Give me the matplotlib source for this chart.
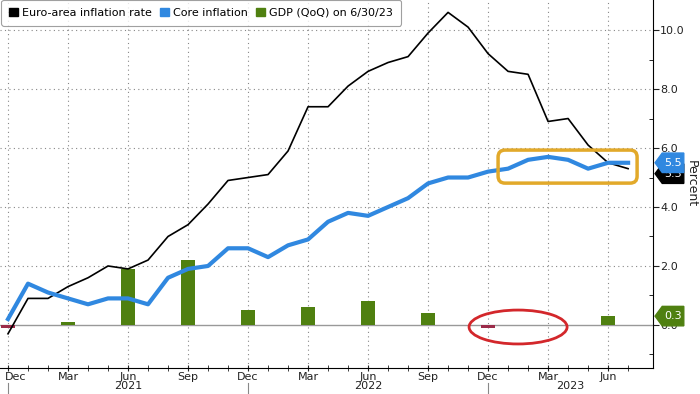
import matplotlib
matplotlib.use("Agg")
import matplotlib.pyplot as plt
import matplotlib.transforms as mtransforms
from matplotlib.patches import Patch, Polygon, Ellipse, FancyBboxPatch
import numpy as np
import pandas as pd

# monthly data, Dec 2020 .. Jul 2023
months = pd.period_range("2020-12", "2023-07", freq="M")
headline = [-0.3, 0.9, 0.9, 1.3, 1.6, 2.0, 1.9, 2.2, 3.0, 3.4, 4.1, 4.9,
            5.0, 5.1, 5.9, 7.4, 7.4, 8.1, 8.6, 8.9, 9.1, 9.9, 10.6, 10.1,
            9.2, 8.6, 8.5, 6.9, 7.0, 6.1, 5.5, 5.3]
core = [0.2, 1.4, 1.1, 0.9, 0.7, 0.9, 0.9, 0.7, 1.6, 1.9, 2.0, 2.6,
        2.6, 2.3, 2.7, 2.9, 3.5, 3.8, 3.7, 4.0, 4.3, 4.8, 5.0, 5.0,
        5.2, 5.3, 5.6, 5.7, 5.6, 5.3, 5.5, 5.5]

# quarterly GDP (QoQ)
gdp_months = ["2020-12", "2021-03", "2021-06", "2021-09", "2021-12", "2022-03",
              "2022-06", "2022-09", "2022-12", "2023-03", "2023-06"]
gdp = [-0.1, 0.1, 1.9, 2.2, 0.5, 0.6, 0.8, 0.4, -0.1, 0.0, 0.3]

labels = ["Euro-area inflation rate", "Core inflation", "GDP (QoQ) on 6/30/23"]
years = ["2021", "2022", "2023"]

BLACK = "#000000"
BLUE = "#3088e0"
GREEN = "#4f8010"
MAROON = "#9b2c4a"

x = np.arange(len(months))
gx = [months.get_loc(pd.Period(m, freq="M")) for m in gdp_months]

fig = plt.figure(figsize=(7, 3.94), dpi=100)
ax = fig.add_axes([0.0, 0.066, 0.933, 0.934])

# grid + zero line
for v in [2, 4, 6, 8, 10]:
    ax.axhline(v, color="#888888", lw=0.8, ls=(0, (1, 3)), zorder=0)
for i in range(0, len(months), 3):
    ax.axvline(i, color="#888888", lw=0.8, ls=(0, (1, 3)), zorder=0)
ax.axhline(0, color="#999999", lw=1.0, zorder=1)

bar_colors = [GREEN if g >= 0 else MAROON for g in gdp]
ax.bar(gx, gdp, width=0.7, color=bar_colors, zorder=2)
ax.plot(x, headline, color=BLACK, lw=1.2, zorder=3)
ax.plot(x, core, color=BLUE, lw=3, zorder=4)

ax.set_xlim(-0.4, 32.25)
ax.set_ylim(-1.46, 11.02)

# annotations
box = FancyBboxPatch((24.5, 4.81), 6.95, 1.12,
                     boxstyle="round,pad=0,rounding_size=0.35",
                     mutation_aspect=0.68, fill=False,
                     edgecolor="#e2a92a", lw=2.5, zorder=5)
ax.add_patch(box)
ax.add_patch(Ellipse((25.5, -0.07), 4.9, 1.15, fill=False,
                     edgecolor="#d3272b", lw=2, zorder=5))

# spines / ticks
for s in ["top", "left"]:
    ax.spines[s].set_visible(False)
ax.yaxis.tick_right()
ax.set_yticks(np.arange(0, 11, 2))
ax.set_yticks(np.arange(-1, 11, 2), minor=True)
ax.yaxis.set_major_formatter(matplotlib.ticker.FormatStrFormatter("%.1f"))
ax.tick_params(axis="y", which="major", labelsize=8, length=4, pad=1, colors="#222222")
ax.tick_params(axis="y", which="minor", length=3, direction="in")
ax.text(1.058, 0.5, "Percent", transform=ax.transAxes, rotation=270,
        ha="center", va="center", fontsize=9, color="#222222")

ax.set_xticks(x[::3])
ax.set_xticklabels([m.strftime("%b") for m in months[::3]])
ax.set_xticks(x, minor=True)
ax.tick_params(axis="x", which="both", direction="inout", length=4, labelsize=8,
               pad=1, colors="#222222")
first = ax.get_xticklabels()[0]
first.set_horizontalalignment("left")
first.set_transform(first.get_transform() +
                    mtransforms.ScaledTranslation(-3 / 100, 0, fig.dpi_scale_trans))

# year labels and separators
trans = mtransforms.blended_transform_factory(ax.transData, ax.transAxes)
dec_idx = [i for i, m in enumerate(months) if m.month == 12]
edges = dec_idx + [32.25]
for k, yr in enumerate(years):
    ax.plot([dec_idx[k], dec_idx[k]], [-0.04, -0.08], color="#888888", lw=0.8,
            transform=trans, clip_on=False)
    ax.text((edges[k] + edges[k + 1]) / 2, -0.036, yr, transform=trans,
            ha="center", va="top", fontsize=8, color="#222222")

# value tags on right axis
ytrans = mtransforms.blended_transform_factory(ax.transAxes, ax.transData)
def tag(v, txt, color, z):
    h = 0.33
    pts = [(1.003, v), (1.014, v + h), (1.047, v + h), (1.047, v - h), (1.014, v - h)]
    ax.add_patch(Polygon(pts, closed=True, color=color, transform=ytrans,
                         clip_on=False, zorder=z))
    ax.text(1.031, v, txt, transform=ytrans, ha="center", va="center",
            fontsize=8, color="white", zorder=z + 0.5, clip_on=False)

tag(headline[-1] - 0.17, f"{headline[-1]:.1f}", BLACK, 6)
tag(core[-1], f"{core[-1]:.1f}", BLUE, 7)
tag(gdp[-1], f"{gdp[-1]:.1f}", GREEN, 6)

handles = [Patch(color=BLACK), Patch(color=BLUE), Patch(color=GREEN)]
leg = ax.legend(handles, labels, loc="upper left", bbox_to_anchor=(0.002, 1.0),
                ncol=3, fontsize=8, frameon=True, fancybox=True,
                handlelength=0.8, handleheight=0.8, handletextpad=0.4,
                columnspacing=0.7, borderpad=0.7, borderaxespad=0.0)
leg.get_frame().set_edgecolor("#888888")
leg.get_frame().set_linewidth(0.8)
leg.set_zorder(10)

plt.savefig("out.png", dpi=100)
